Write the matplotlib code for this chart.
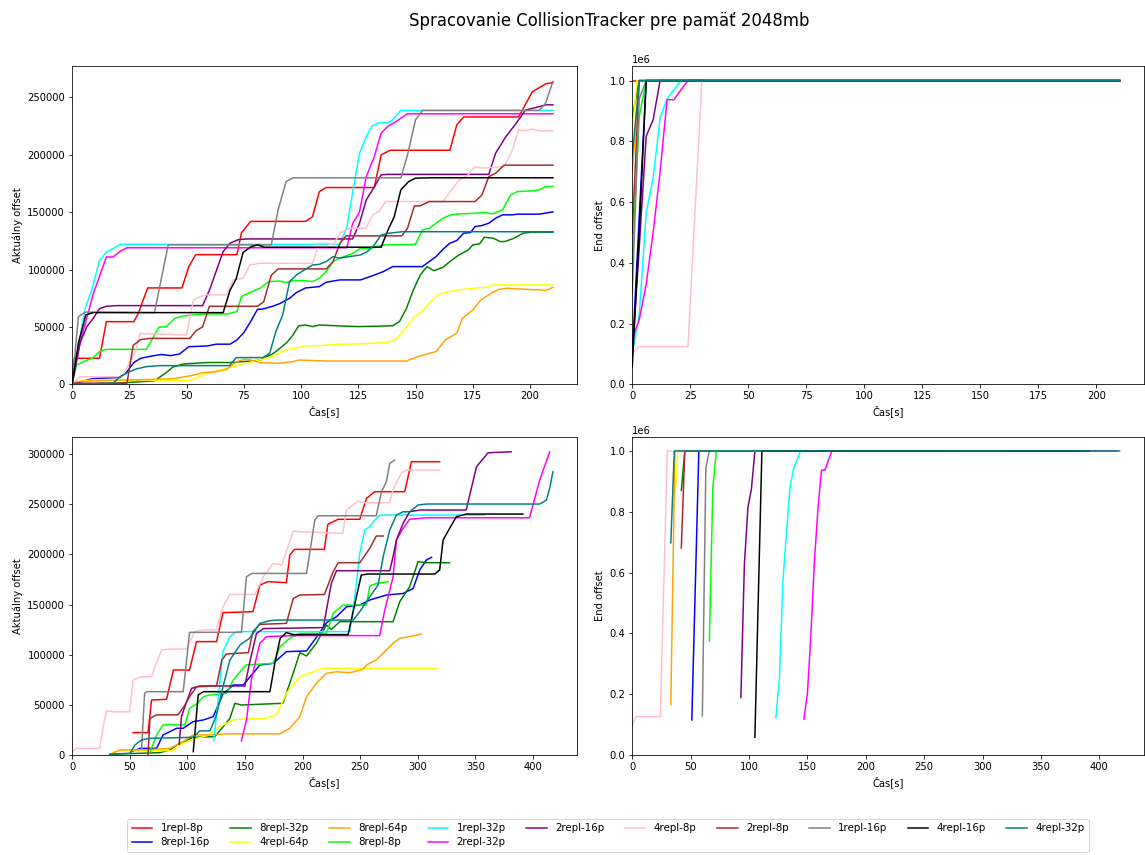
import matplotlib
matplotlib.use('Agg')
import matplotlib.pyplot as plt

# series names and colours (order = plotting order = legend order)
labels = ['1repl-8p', '8repl-16p', '8repl-32p', '4repl-64p', '8repl-64p', '8repl-8p', '1repl-32p',
          '2repl-32p', '2repl-16p', '4repl-8p', '2repl-8p', '1repl-16p', '4repl-16p', '4repl-32p']
colors = ['red', 'blue', 'green', 'yellow', 'orange', 'lime', 'cyan',
          'magenta', 'purple', 'pink', 'brown', 'gray', 'black', 'teal']

# ---------------- top left: aktualny offset (run 1) ----------------
tl_1repl_8p_t = [0, 1, 12, 15, 27, 29, 33, 48, 51, 54, 72, 74, 78, 102, 105, 108, 111, 132, 135, 139, 165, 168, 171, 195, 201, 207, 210]
tl_1repl_8p_y = [3000, 22700, 22700, 54600, 54600, 62000, 84000, 84000, 102600, 113000, 113000, 132000, 142000, 142000, 146000, 168000, 171500, 171500, 200000, 204000, 204000, 226000, 233000, 233000, 255000, 262000, 263000]
tl_8repl_16p_t = [0, 9, 21, 24, 27, 30, 35, 39, 43, 47, 51, 59, 63, 69, 72, 75, 78, 81, 83, 88, 91, 95, 98, 102, 108, 111, 117, 126, 131, 136, 140, 153, 156, 159, 162, 165, 168, 171, 174, 176, 179, 182, 185, 188, 192, 195, 204, 210]
tl_8repl_16p_y = [0, 5000, 6000, 11000, 19000, 22700, 24700, 26000, 25000, 26500, 32800, 33400, 35000, 35000, 38700, 45000, 54700, 65400, 65400, 68300, 70600, 75000, 80000, 84000, 85200, 89000, 91000, 91000, 94500, 98300, 102600, 102600, 107000, 111300, 117700, 123000, 125300, 131700, 132300, 137500, 138400, 140400, 144800, 147700, 147700, 148300, 148300, 150300]
tl_8repl_32p_t = [0, 20, 36, 41, 44, 48.5, 59, 69, 76, 82, 88, 93.5, 96, 99, 102, 105, 108, 117, 125, 140, 143, 146, 149, 152, 155, 158, 162, 165, 169, 173, 175, 178, 180, 184, 187, 189, 193, 197, 201, 210]
tl_8repl_32p_y = [0, 1000, 3000, 10000, 15000, 17700, 19000, 19000, 20000, 21000, 27000, 35800, 41600, 51000, 51700, 50300, 51700, 50900, 50300, 51000, 54700, 66000, 82000, 95000, 102600, 99000, 102000, 107000, 112800, 117000, 121500, 122400, 128200, 127300, 124400, 124400, 127300, 131700, 132600, 132600]
tl_4repl_64p_t = [0, 9, 51, 54, 59, 64.5, 70, 76, 82, 88, 93.5, 99, 102, 108, 117, 125.5, 131, 137, 141, 144.5, 149.5, 153, 156, 160, 165, 169, 175, 181, 184, 210]
tl_4repl_64p_y = [2000, 3800, 3200, 5200, 9600, 12500, 15400, 18300, 21200, 24700, 30000, 32300, 33400, 33700, 35000, 35200, 35800, 36300, 38700, 46000, 59000, 63400, 70600, 78500, 80800, 82300, 83700, 84600, 86600, 86600]
tl_8repl_64p_t = [0, 9, 38, 45.5, 53, 57, 63, 67.5, 72, 75.5, 78, 82, 90.5, 96.5, 99, 111, 146, 150, 154.5, 159, 163, 168, 170.5, 175, 178.5, 183, 186.5, 190, 198, 204, 207, 210]
tl_8repl_64p_y = [2000, 3000, 4400, 5200, 8000, 10000, 11000, 13000, 19800, 22000, 21200, 19000, 18300, 19800, 21200, 20300, 20300, 23300, 26200, 28500, 38700, 44500, 57600, 64800, 73500, 79400, 82800, 83700, 82800, 82300, 81700, 84600]
tl_8repl_8p_t = [0, 2, 6.5, 9, 12, 15, 32.5, 38, 41, 45, 48.5, 53, 59, 68, 72, 74, 77, 82, 86, 90.5, 93.5, 96.5, 102, 105, 108, 111, 114, 117, 122.5, 126, 130.5, 134, 137, 150, 153, 156, 162, 165.5, 169, 175, 180.5, 183.5, 188, 191.5, 194.5, 201, 204, 207, 210]
tl_8repl_8p_y = [0, 17000, 21000, 22700, 28500, 30500, 30500, 50000, 50000, 57600, 59600, 60500, 61300, 61300, 63400, 76500, 79400, 83700, 89500, 90000, 88700, 90400, 90400, 89500, 92400, 98300, 107000, 110000, 114000, 118600, 118600, 120600, 121500, 122000, 134600, 136000, 144800, 147700, 148500, 149000, 149700, 148500, 152000, 165000, 168000, 168600, 169500, 172400, 172400]
tl_1repl_32p_t = [0, 5.7, 8.6, 12, 15, 21, 117, 120, 122.5, 125.5, 128.5, 131, 134, 138, 140, 143.5, 210]
tl_1repl_32p_y = [0, 66000, 82000, 108000, 115000, 122000, 122000, 137000, 166600, 201000, 216000, 225000, 228000, 228000, 230500, 238700, 238700]
tl_2repl_32p_t = [0, 3.5, 9.3, 15, 18, 21, 24, 120, 122.5, 125.5, 128.5, 132, 135, 138, 141.5, 146.5, 210]
tl_2repl_32p_y = [0, 36000, 79000, 111000, 111000, 116000, 119000, 119000, 140000, 150000, 181000, 198500, 219000, 225000, 229000, 235800, 235800]
tl_2repl_16p_t = [0, 3.5, 6.4, 9.3, 12, 15, 19.5, 57, 60, 66, 69, 72.5, 76, 122.5, 125.5, 128.5, 132, 135, 138, 182, 185, 189.5, 194, 198, 204, 207, 210]
tl_2repl_16p_y = [0, 36000, 50000, 57600, 66000, 68000, 68600, 68600, 82000, 115700, 123000, 126000, 126700, 126700, 140000, 160800, 172000, 182600, 183000, 183000, 201500, 216000, 227600, 239000, 242000, 243600, 243600]
tl_4repl_8p_t = [0, 3.5, 16.5, 22, 28, 29.6, 32.5, 50, 53, 56, 58.7, 67.4, 70.3, 74.7, 77.6, 82, 105, 108, 111, 114, 117, 121, 128.4, 131.3, 134, 137, 162, 164.7, 169, 173, 176, 179, 188.7, 192.3, 195, 198, 201, 204, 210]
tl_4repl_8p_y = [0, 6600, 6600, 6700, 30000, 44500, 44000, 43000, 73500, 76500, 78000, 78000, 91000, 92400, 104000, 105500, 105500, 123000, 123000, 121500, 131700, 136000, 136000, 147700, 150600, 159300, 159300, 166600, 178000, 182600, 189800, 188400, 189800, 204000, 221800, 221000, 222400, 221000, 221000]
tl_2repl_8p_t = [0, 24, 26.7, 30, 34, 51.4, 54.3, 57, 60, 81, 83.7, 87, 90, 111, 114, 117, 119.7, 144, 146.5, 149.5, 152, 156, 176, 179, 182, 185, 188.7, 210]
tl_2repl_8p_y = [1000, 1000, 34000, 39000, 40000, 40000, 47000, 50000, 68000, 68000, 72000, 95000, 100600, 100600, 107000, 123000, 129400, 129400, 136000, 155500, 155500, 159300, 159300, 165000, 181000, 184000, 191000, 191000]
tl_1repl_16p_t = [0, 2.8, 5.7, 36, 42, 87, 90, 93.5, 96.4, 143.6, 146.5, 150, 153, 204, 206.8, 210]
tl_1repl_16p_y = [0, 59000, 63000, 62500, 121500, 121500, 152000, 176700, 180000, 180000, 200000, 230500, 238700, 238700, 245000, 264000]
tl_4repl_16p_t = [0, 2.8, 6, 9.3, 66, 69, 71.7, 74.7, 78.3, 81, 84, 135, 138, 140.7, 143.6, 147, 150, 157, 210]
tl_4repl_16p_y = [0, 36000, 60500, 62500, 62500, 82000, 92000, 115000, 120000, 121500, 119500, 119500, 134600, 146000, 169500, 176700, 179700, 180000, 180000]
tl_4repl_32p_t = [0, 18, 21, 24.5, 28, 32.5, 38.3, 68.8, 71.7, 83.4, 86.3, 89, 92, 95, 98, 101.5, 105, 108, 111, 114, 116.8, 121, 126, 129, 132, 135, 138.5, 144, 210]
tl_4repl_32p_y = [0, 1000, 6700, 10500, 13400, 15400, 16300, 16300, 23300, 23300, 27000, 46000, 60500, 89500, 95300, 99700, 104000, 104600, 107000, 111300, 110000, 111300, 112800, 115700, 121500, 130200, 131700, 133000, 133000]

# ---------------- bottom left: aktualny offset (run 2) ----------------
bl_1repl_8p_t = [53, 66, 69, 82, 88, 102, 108, 125.4, 131, 157, 163, 170, 186, 189, 193, 219, 222, 231, 249.7, 255.5, 262.7, 288.7, 294.5, 319]
bl_1repl_8p_y = [22300, 22300, 54800, 55500, 84700, 84700, 113000, 113000, 141900, 142900, 169400, 172800, 171800, 199300, 205000, 205000, 230000, 235000, 235000, 255800, 262500, 262500, 292400, 292400]
bl_8repl_16p_t = [51.7, 59, 73.4, 79, 85, 90.8, 96.5, 105, 114, 122.5, 131, 140, 148.6, 163, 174.6, 186, 203.5, 215, 220.8, 229.5, 238.3, 249.7, 258.4, 272.8, 287.3, 296, 301.7, 307.5, 312]
bl_8repl_16p_y = [3300, 6600, 6600, 20000, 23300, 26600, 26600, 33200, 34900, 38200, 60800, 69800, 69800, 89700, 91400, 103000, 103700, 122000, 131900, 137900, 147800, 149500, 154500, 159500, 161000, 166000, 184400, 194400, 197000]
bl_8repl_32p_t = [33, 76.3, 85, 90.8, 105, 124, 131, 137, 141.3, 147, 183, 191.9, 197.7, 203.5, 212, 220.8, 225, 232.4, 278.6, 284.4, 293, 300.3, 307.5, 327.7]
bl_8repl_32p_y = [700, 2300, 5000, 10000, 17600, 18300, 28000, 36500, 51500, 49800, 51500, 81400, 102000, 98700, 111300, 129600, 125200, 132900, 132900, 152800, 167800, 192700, 191700, 191700]
bl_4repl_64p_t = [35.8, 47.4, 88, 93.6, 105, 116.8, 128.3, 140, 151.4, 168.8, 177.5, 186, 197.7, 209.3, 218, 316]
bl_4repl_64p_y = [3300, 4300, 4300, 10000, 15600, 19000, 28200, 35000, 36000, 36500, 40000, 61500, 78000, 83000, 86400, 86400]
bl_8repl_64p_t = [33, 41.6, 61.8, 85, 96.5, 105, 122.5, 134, 180.3, 189, 197.7, 203.5, 212, 220.8, 229.5, 241, 252.6, 255.5, 264, 278.6, 284.4, 296, 303]
bl_8repl_64p_y = [700, 5000, 5000, 6600, 13300, 20000, 20000, 21000, 21000, 26600, 38200, 58100, 71400, 81400, 83000, 82000, 85400, 89700, 94700, 111300, 116300, 118600, 120600]
bl_8repl_8p_t = [67.6, 73.4, 79, 98, 102, 108, 114, 119.7, 134, 140, 147, 151.4, 174.6, 180.6, 189, 197.7, 220.8, 226.6, 235.3, 255.5, 258.4, 264, 274.3]
bl_8repl_8p_y = [2300, 20000, 30000, 30000, 46500, 50800, 58000, 59800, 61500, 74800, 84700, 89700, 91400, 108000, 116300, 121300, 121300, 141200, 149500, 149500, 168400, 171000, 172800]
bl_1repl_32p_t = [123, 127, 131, 137, 143, 241, 245.4, 249.7, 254, 258.4, 262.7, 267, 358]
bl_1repl_32p_y = [14000, 58000, 103000, 118000, 123000, 123000, 157800, 201000, 224300, 227600, 234200, 239200, 239200]
bl_2repl_32p_t = [147, 151.4, 155.8, 163, 168.8, 192, 267, 271.4, 278.6, 281.5, 287.3, 293, 307.5, 397, 405.8, 414.5]
bl_2repl_32p_y = [14000, 35000, 76400, 111300, 118000, 119000, 119000, 144500, 177700, 214300, 226000, 235000, 236500, 236500, 274000, 302300]
bl_2repl_16p_t = [93, 95, 99.4, 103.8, 111, 150, 154, 160, 166, 218, 220.8, 225, 229.5, 275.7, 278.6, 281.5, 287.3, 293, 301.7, 342, 351, 361, 381]
bl_2repl_16p_y = [10600, 38200, 53000, 66400, 68800, 68800, 91400, 121000, 126000, 127000, 144500, 171000, 183700, 183700, 197700, 214300, 231000, 242500, 244200, 244200, 287400, 301300, 302300]
bl_4repl_8p_t = [0, 4, 24, 27, 30, 37, 50, 53, 60, 69, 73.4, 77.7, 85, 99.4, 106.6, 114, 125, 131, 137, 158.6, 166, 174.6, 182, 192, 197.7, 235, 238, 248, 254, 275.7, 278.6, 286, 290, 319]
bl_4repl_8p_y = [3300, 6600, 6600, 28000, 44000, 43000, 43000, 74800, 78000, 78000, 92400, 104700, 105600, 105600, 123000, 124600, 124600, 147800, 160000, 160000, 177700, 191000, 189400, 223300, 222600, 221000, 244000, 253000, 251500, 251500, 264800, 281400, 284000, 284000]
bl_2repl_8p_t = [66, 67.6, 73.4, 92, 98, 102, 108, 125.4, 130, 134, 153, 157, 163, 186, 192, 197.7, 219, 226.6, 231, 249.7, 258.4, 264, 270]
bl_2repl_8p_y = [700, 36500, 40000, 40000, 49800, 58100, 68000, 68800, 94700, 100700, 102000, 123000, 130200, 131200, 156000, 159500, 160000, 182700, 191700, 191700, 206000, 218300, 218300]
bl_1repl_16p_t = [60.4, 63, 65, 96.5, 102, 147, 151.4, 156, 203.5, 210.7, 213.6, 264, 268.5, 272.8, 275.7, 280]
bl_1repl_16p_y = [6600, 61500, 63100, 63100, 122300, 122300, 177700, 181000, 181000, 234200, 238500, 238500, 262500, 272400, 290700, 294000]
bl_4repl_16p_t = [105.2, 109.5, 114, 171.7, 176, 180.6, 186, 192, 239.6, 246.8, 251, 257, 314.7, 319, 322, 327.7, 333.5, 342, 391.3]
bl_4repl_16p_y = [3300, 59800, 63100, 63100, 91400, 116300, 122000, 120000, 120000, 157800, 179400, 180400, 180400, 184400, 214300, 226000, 237500, 240200, 240200]
bl_4repl_32p_t = [33, 50.3, 54.6, 60.4, 67.6, 105, 111, 119.7, 125.4, 131, 137, 145.7, 154, 163, 171.7, 177.5, 244, 249.7, 258.4, 265.6, 270, 275.7, 281.5, 287.3, 293, 300.3, 307.5, 405.8, 411.6, 414.5, 417.3]
bl_4repl_32p_y = [700, 1700, 10000, 15000, 16600, 17600, 24000, 24000, 40000, 68000, 94700, 109600, 116300, 131200, 133900, 134500, 134500, 142900, 157800, 169400, 197700, 224300, 239200, 242500, 242500, 249200, 250200, 250200, 254000, 265800, 282400]

# ---------------- top right: end offset (run 1) ----------------
tr_1repl_8p_t = [0, 210]
tr_1repl_8p_y = [1000000, 1000000]
tr_8repl_16p_t = [0, 3, 6, 210]
tr_8repl_16p_y = [100000, 550000, 1000000, 1000000]
tr_8repl_32p_t = [0, 3, 210]
tr_8repl_32p_y = [880000, 1000000, 1000000]
tr_4repl_64p_t = [0, 2, 210]
tr_4repl_64p_y = [830000, 1000000, 1000000]
tr_8repl_64p_t = [0, 3, 210]
tr_8repl_64p_y = [700000, 1000000, 1000000]
tr_8repl_8p_t = [0, 3, 6, 210]
tr_8repl_8p_y = [400000, 880000, 1000000, 1000000]
tr_1repl_32p_t = [0, 3, 6, 9, 12, 15, 18, 21, 210]
tr_1repl_32p_y = [100000, 229000, 564000, 680000, 877000, 940000, 970000, 1000000, 1000000]
tr_2repl_32p_t = [0, 3, 6, 9, 12, 15, 18, 21, 24, 210]
tr_2repl_32p_y = [152000, 212000, 330000, 500000, 700000, 937000, 937000, 970000, 1000000, 1000000]
tr_2repl_16p_t = [0, 3, 6, 9, 12, 210]
tr_2repl_16p_y = [100000, 450000, 817000, 871000, 1000000, 1000000]
tr_4repl_8p_t = [0, 3, 24, 30, 210]
tr_4repl_8p_y = [102000, 124000, 124000, 1000000, 1000000]
tr_2repl_8p_t = [0, 3, 210]
tr_2repl_8p_y = [500000, 1000000, 1000000]
tr_1repl_16p_t = [0, 3, 6, 210]
tr_1repl_16p_y = [300000, 940000, 1000000, 1000000]
tr_4repl_16p_t = [0, 3, 6, 210]
tr_4repl_16p_y = [58000, 500000, 1000000, 1000000]
tr_4repl_32p_t = [0, 3, 210]
tr_4repl_32p_y = [750000, 1000000, 1000000]

# ---------------- bottom right: end offset (run 2) ----------------
br_1repl_8p_t = [53, 319]
br_1repl_8p_y = [1000000, 1000000]
br_8repl_16p_t = [51, 57, 312]
br_8repl_16p_y = [115000, 1000000, 1000000]
br_8repl_32p_t = [42, 45, 327.7]
br_8repl_32p_y = [870000, 1000000, 1000000]
br_4repl_64p_t = [36, 39, 316]
br_4repl_64p_y = [813000, 1000000, 1000000]
br_8repl_64p_t = [33, 36.5, 303]
br_8repl_64p_y = [165000, 1000000, 1000000]
br_8repl_8p_t = [66, 69, 72, 274.3]
br_8repl_8p_y = [374000, 879000, 1000000, 1000000]
br_1repl_32p_t = [123, 126, 129, 132, 135, 138, 144, 358]
br_1repl_32p_y = [124000, 253000, 571000, 730000, 879000, 940000, 1000000, 1000000]
br_2repl_32p_t = [147, 150, 153, 156, 159, 162, 165, 168, 171, 414.5]
br_2repl_32p_y = [118000, 203000, 400000, 640000, 810000, 937000, 937000, 970000, 1000000, 1000000]
br_2repl_16p_t = [93, 96, 99, 102, 105, 381]
br_2repl_16p_y = [189000, 626000, 813000, 874000, 1000000, 1000000]
br_4repl_8p_t = [0, 3, 24, 30, 319]
br_4repl_8p_y = [99000, 126000, 126000, 1000000, 1000000]
br_2repl_8p_t = [42, 45, 270]
br_2repl_8p_y = [681000, 1000000, 1000000]
br_1repl_16p_t = [60, 63, 66, 280]
br_1repl_16p_y = [129000, 945000, 1000000, 1000000]
br_4repl_16p_t = [105, 111, 391.3]
br_4repl_16p_y = [58000, 1000000, 1000000]
br_4repl_32p_t = [33, 36, 417.3]
br_4repl_32p_y = [698000, 1000000, 1000000]

panels = {
    'tl': [(tl_1repl_8p_t, tl_1repl_8p_y), (tl_8repl_16p_t, tl_8repl_16p_y), (tl_8repl_32p_t, tl_8repl_32p_y),
           (tl_4repl_64p_t, tl_4repl_64p_y), (tl_8repl_64p_t, tl_8repl_64p_y), (tl_8repl_8p_t, tl_8repl_8p_y),
           (tl_1repl_32p_t, tl_1repl_32p_y), (tl_2repl_32p_t, tl_2repl_32p_y), (tl_2repl_16p_t, tl_2repl_16p_y),
           (tl_4repl_8p_t, tl_4repl_8p_y), (tl_2repl_8p_t, tl_2repl_8p_y), (tl_1repl_16p_t, tl_1repl_16p_y),
           (tl_4repl_16p_t, tl_4repl_16p_y), (tl_4repl_32p_t, tl_4repl_32p_y)],
    'tr': [(tr_1repl_8p_t, tr_1repl_8p_y), (tr_8repl_16p_t, tr_8repl_16p_y), (tr_8repl_32p_t, tr_8repl_32p_y),
           (tr_4repl_64p_t, tr_4repl_64p_y), (tr_8repl_64p_t, tr_8repl_64p_y), (tr_8repl_8p_t, tr_8repl_8p_y),
           (tr_1repl_32p_t, tr_1repl_32p_y), (tr_2repl_32p_t, tr_2repl_32p_y), (tr_2repl_16p_t, tr_2repl_16p_y),
           (tr_4repl_8p_t, tr_4repl_8p_y), (tr_2repl_8p_t, tr_2repl_8p_y), (tr_1repl_16p_t, tr_1repl_16p_y),
           (tr_4repl_16p_t, tr_4repl_16p_y), (tr_4repl_32p_t, tr_4repl_32p_y)],
    'bl': [(bl_1repl_8p_t, bl_1repl_8p_y), (bl_8repl_16p_t, bl_8repl_16p_y), (bl_8repl_32p_t, bl_8repl_32p_y),
           (bl_4repl_64p_t, bl_4repl_64p_y), (bl_8repl_64p_t, bl_8repl_64p_y), (bl_8repl_8p_t, bl_8repl_8p_y),
           (bl_1repl_32p_t, bl_1repl_32p_y), (bl_2repl_32p_t, bl_2repl_32p_y), (bl_2repl_16p_t, bl_2repl_16p_y),
           (bl_4repl_8p_t, bl_4repl_8p_y), (bl_2repl_8p_t, bl_2repl_8p_y), (bl_1repl_16p_t, bl_1repl_16p_y),
           (bl_4repl_16p_t, bl_4repl_16p_y), (bl_4repl_32p_t, bl_4repl_32p_y)],
    'br': [(br_1repl_8p_t, br_1repl_8p_y), (br_8repl_16p_t, br_8repl_16p_y), (br_8repl_32p_t, br_8repl_32p_y),
           (br_4repl_64p_t, br_4repl_64p_y), (br_8repl_64p_t, br_8repl_64p_y), (br_8repl_8p_t, br_8repl_8p_y),
           (br_1repl_32p_t, br_1repl_32p_y), (br_2repl_32p_t, br_2repl_32p_y), (br_2repl_16p_t, br_2repl_16p_y),
           (br_4repl_8p_t, br_4repl_8p_y), (br_2repl_8p_t, br_2repl_8p_y), (br_1repl_16p_t, br_1repl_16p_y),
           (br_4repl_16p_t, br_4repl_16p_y), (br_4repl_32p_t, br_4repl_32p_y)],
}

fig = plt.figure(figsize=(1145 / 72, 855 / 72), dpi=72)
fig.suptitle('Spracovanie CollisionTracker pre pamäť 2048mb', fontsize=16.5, x=0.532, y=0.986)

axes = {
    'tl': fig.add_axes([0.0629, 0.5505, 0.441, 0.372]),
    'tr': fig.add_axes([0.5522, 0.5505, 0.4469, 0.372]),
    'bl': fig.add_axes([0.0629, 0.117, 0.441, 0.3723]),
    'br': fig.add_axes([0.5522, 0.117, 0.4469, 0.3723]),
}
ylabels = {'tl': 'Aktuálny offset', 'bl': 'Aktuálny offset', 'tr': 'End offset', 'br': 'End offset'}

handles = []
for key, ax in axes.items():
    for (t, y), lab, col in zip(panels[key], labels, colors):
        line, = ax.plot(t, y, color=col, label=lab, linewidth=1.5)
        if key == 'tl':
            handles.append(line)
    ax.set_xlim(left=0)
    ax.set_ylim(bottom=0)
    ax.set_xlabel('Čas[s]')
    ax.set_ylabel(ylabels[key])

fig.legend(handles, labels, loc='lower center', ncol=10, fontsize=10.3,
           bbox_to_anchor=(0.531, -0.002), labelspacing=0.4)

fig.savefig('out.png', dpi=72)
